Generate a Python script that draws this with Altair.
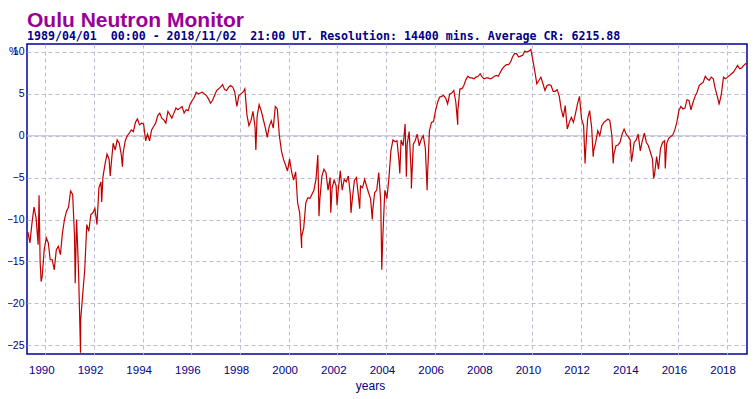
import datetime as dt
import altair as alt
import pandas as pd

TITLE = "Oulu Neutron Monitor"
SUBTITLE = ("1989/04/01\u00a0\u00a000:00 - 2018/11/02\u00a0\u00a021:00 UT. "
            "Resolution: 14400 mins. Average CR: 6215.88")
X_TITLE = "years"
Y_UNIT = "%"

# first month of the series
START_YEAR, START_MONTH = 1989, 4

# relative count rate (%), one value per month, Apr 1989 .. Nov 2018
v1989 = [-11.5, -12.8, -10.4, -8.5, -9.8, -13.0, -15.0, -16.8, -13.6]
v1990 = [-12.2, -12.8, -14.8, -14.8, -16.0, -13.6, -13.2, -14.2, -11.6, -10.0, -9.0, -8.5]
v1991 = [-6.6, -7.0, -12.0, -10.0, -16.4, -22.0, -19.0, -16.0, -10.6, -11.4, -9.4, -9.2]
v1992 = [-8.7, -10.6, -6.2, -5.5, -4.9, -3.4, -2.2, -2.8, -3.5, -0.9, -1.7, -0.5]
v1993 = [-0.9, -2.3, -2.0, -0.6, 0.0, 0.3, 0.7, 0.5, 1.6, 2.0, 1.3, 1.5]
v1994 = [1.4, -0.6, 0.2, -0.6, 0.7, 1.1, 1.5, 2.4, 2.7, 2.1, 1.9, 1.5]
v1995 = [2.9, 2.5, 2.1, 2.7, 3.3, 3.1, 3.3, 3.5, 2.7, 3.1, 3.0, 3.8]
v1996 = [4.2, 4.6, 5.2, 5.0, 5.1, 5.2, 5.0, 4.8, 4.4, 3.9, 4.2, 4.8]
v1997 = [5.4, 5.6, 5.8, 6.1, 5.5, 5.4, 5.8, 6.0, 5.8, 5.2, 3.5, 4.8]
v1998 = [5.0, 5.2, 5.6, 2.5, 1.2, 1.8, 2.9, 1.0, 2.3, 3.7, 3.0, 2.0]
v1999 = [1.0, -0.2, 1.1, 1.8, 0.9, 3.5, 3.2, 0.0, -1.8, -2.8, -3.5, -4.2]
v2000 = [-2.8, -4.3, -5.3, -4.3, -8.0, -9.2, -12.0, -11.0, -8.0, -7.4, -7.5, -7.0]
v2001 = [-6.5, -5.2, -2.3, -7.5, -4.8, -4.0, -4.4, -6.5, -5.0, -6.2, -5.3, -6.0]
v2002 = [-6.5, -4.2, -6.5, -5.2, -5.5, -4.8, -7.0, -7.5, -5.3, -5.0, -7.3, -6.0]
v2003 = [-6.2, -5.2, -6.0, -6.8, -7.5, -9.0, -6.8, -6.5, -4.4, -8.0, -12.0, -6.5]
v2004 = [-7.5, -5.0, -1.8, -0.5, -0.7, -0.6, -3.0, -0.5, -1.2, 1.4, -1.0, 0.5]
v2005 = [-4.5, -1.0, -0.6, 0.2, -1.2, -0.4, 0.0, -1.5, -5.0, 0.6, 1.6, 1.7]
v2006 = [3.0, 4.0, 4.6, 4.7, 4.8, 4.5, 3.8, 5.0, 5.1, 5.4, 4.0, 3.0]
v2007 = [5.6, 5.6, 6.0, 6.7, 7.1, 6.9, 6.9, 6.8, 7.0, 7.1, 7.4, 7.0]
v2008 = [6.8, 6.9, 6.9, 6.8, 6.9, 7.1, 7.2, 7.1, 7.6, 8.0, 8.3, 8.5]
v2009 = [8.5, 8.8, 9.4, 9.8, 9.8, 9.4, 9.5, 9.6, 10.1, 10.0, 10.1, 10.3]
v2010 = [9.0, 7.6, 6.2, 6.6, 7.0, 6.2, 5.4, 6.0, 6.1, 6.0, 5.3, 5.3]
v2011 = [5.5, 4.7, 3.2, 2.2, 3.6, 0.8, 1.6, 2.2, 1.6, 2.6, 3.8, 4.7]
v2012 = [2.0, 1.2, -2.0, 2.0, 3.0, 1.0, -1.8, -0.8, 0.6, 0.0, 1.2, 1.6]
v2013 = [1.8, 2.0, 1.8, 0.0, -2.2, -1.2, -1.1, -0.8, 0.2, 0.8, 0.2, -0.1]
v2014 = [-0.5, -2.5, -0.8, -0.5, 0.2, -1.8, -0.6, 0.3, -0.8, -1.2, -2.0, -2.8]
v2015 = [-4.6, -2.5, -4.0, -1.5, -0.8, -0.6, -1.0, -0.3, -0.1, 0.1, 0.7, 1.6]
v2016 = [3.0, 3.5, 3.2, 3.3, 4.3, 4.2, 3.1, 4.0, 4.7, 5.2, 6.0, 6.2]
v2017 = [6.4, 7.1, 6.8, 6.6, 7.0, 6.8, 5.6, 4.7, 3.9, 5.0, 7.0, 6.8]
v2018 = [7.0, 7.2, 7.4, 7.6, 8.0, 8.4, 8.0, 8.1, 8.4, 8.6, 8.6]

# short-lived excursions (Forbush decreases, GLE)
spike_dates = ["1989-09-29", "1989-10-30", "1991-03-25", "1991-06-13", "1992-04-26",
               "1992-09-01", "1993-03-03", "1998-08-27", "2000-07-15", "2001-04-01",
               "2001-09-25", "2001-12-28", "2002-07-25", "2002-12-03", "2003-06-10",
               "2003-10-30", "2004-07-27", "2004-11-03", "2005-01-17", "2005-09-10",
               "2006-12-14", "2012-03-08", "2012-07-08", "2013-05-05", "2014-02-03",
               "2015-01-01", "2015-06-25", "2017-09-10"]
spike_values = [-7.1, -17.4, -17.6, -25.9, -7.9,
                -4.8, -3.7, -1.7, -13.4, -9.6,
                -9.2, -8.3, -9.2, -8.7, -10.0,
                -16.0, -4.5, -4.9, -6.3, -6.5,
                1.3, -3.3, -2.5, -3.3, -3.1,
                -5.1, -3.9, 3.8]

Y_TICKS = [10, 5, 0, -5, -10, -15, -20, -25]
X_TICKS = list(range(1990, 2019, 2))
DOMAIN_START = "1989-04-01T00:00"
DOMAIN_END = "2018-11-02T21:00"


def dec_year(d):
    y0 = dt.datetime(d.year, 1, 1)
    y1 = dt.datetime(d.year + 1, 1, 1)
    return d.year + (d - y0).total_seconds() / (y1 - y0).total_seconds()


monthly = (v1989 + v1990 + v1991 + v1992 + v1993 + v1994 + v1995 + v1996 + v1997
           + v1998 + v1999 + v2000 + v2001 + v2002 + v2003 + v2004 + v2005 + v2006
           + v2007 + v2008 + v2009 + v2010 + v2011 + v2012 + v2013 + v2014 + v2015
           + v2016 + v2017 + v2018)

rows = []
for i, val in enumerate(monthly):
    k = START_MONTH - 1 + i
    d = dt.datetime(START_YEAR + k // 12, k % 12 + 1, 15)
    rows.append({"t": dec_year(d), "v": val})
for ds, val in zip(spike_dates, spike_values):
    rows.append({"t": dec_year(dt.datetime.fromisoformat(ds)), "v": val})
df = pd.DataFrame(rows).sort_values("t")

x0 = dec_year(dt.datetime.fromisoformat(DOMAIN_START))
x1 = dec_year(dt.datetime.fromisoformat(DOMAIN_END))

NAVY = "#000088"
GRID = "#bcbcd6"
MONO = "DejaVu Sans Mono"
SANS = "Liberation Sans"

x_enc = alt.X(
    "t:Q",
    scale=alt.Scale(domain=[x0, x1], nice=False, zero=False),
    axis=alt.Axis(
        values=X_TICKS, format="d", grid=True, gridColor=GRID, gridDash=[4, 3],
        gridWidth=1, domain=False, ticks=False, labelOffset=-4, labelPadding=10,
        labelFont=SANS, labelFontSize=11.5, labelColor=NAVY, labelFontWeight="normal",
        title=X_TITLE, titleFont=SANS, titleFontSize=12, titleColor=NAVY,
        titleFontWeight="normal", titleX=343, titleY=35, titleBaseline="alphabetic",
        titleAlign="center",
    ),
)
y_enc = alt.Y(
    "v:Q",
    scale=alt.Scale(domain=[-26.05, 10.95], nice=False, zero=False),
    axis=alt.Axis(
        values=Y_TICKS, grid=True, gridColor=GRID, gridDash=[4, 3], gridWidth=1,
        domain=False, ticks=False, labelPadding=3, labelFont=SANS, labelFontSize=10.5,
        labelColor=NAVY, labelFontWeight="normal", title=None,
    ),
)

line = alt.Chart(df).mark_line(color="#c00000", strokeWidth=1.2, clip=True).encode(
    x=x_enc, y=y_enc
)

zero_rule = alt.Chart(pd.DataFrame({"z": [0]})).mark_rule(
    color=GRID, strokeWidth=1.2
).encode(y=alt.datum(0))

unit = alt.Chart(pd.DataFrame({"s": [Y_UNIT]})).mark_text(
    align="left", baseline="middle", font=SANS, fontSize=10.5, color=NAVY
).encode(x=alt.value(-18), y=alt.datum(10), text="s:N")

title = alt.Chart(pd.DataFrame({"s": [TITLE]})).mark_text(
    align="left", baseline="alphabetic", font=SANS, fontSize=21,
    fontWeight="bold", color="#990099"
).encode(x=alt.value(0), y=alt.value(-17), text="s:N")

subtitle = alt.Chart(pd.DataFrame({"s": [SUBTITLE]})).mark_text(
    align="left", baseline="alphabetic", font=MONO, fontSize=11.6,
    fontWeight="bold", color=NAVY
).encode(x=alt.value(0), y=alt.value(-4), text="s:N")

chart = (
    alt.layer(zero_rule, line, unit, title, subtitle)
    .properties(
        width=720, height=310,
        autosize=alt.AutoSizeParams(type="none"),
        padding={"left": 19, "top": 36, "right": 1, "bottom": 44},
        background="white",
    )
    .configure_view(stroke="#0000a0", strokeWidth=1.5)
)

chart.save("out.html", embed_options={"renderer": "svg", "actions": False})
